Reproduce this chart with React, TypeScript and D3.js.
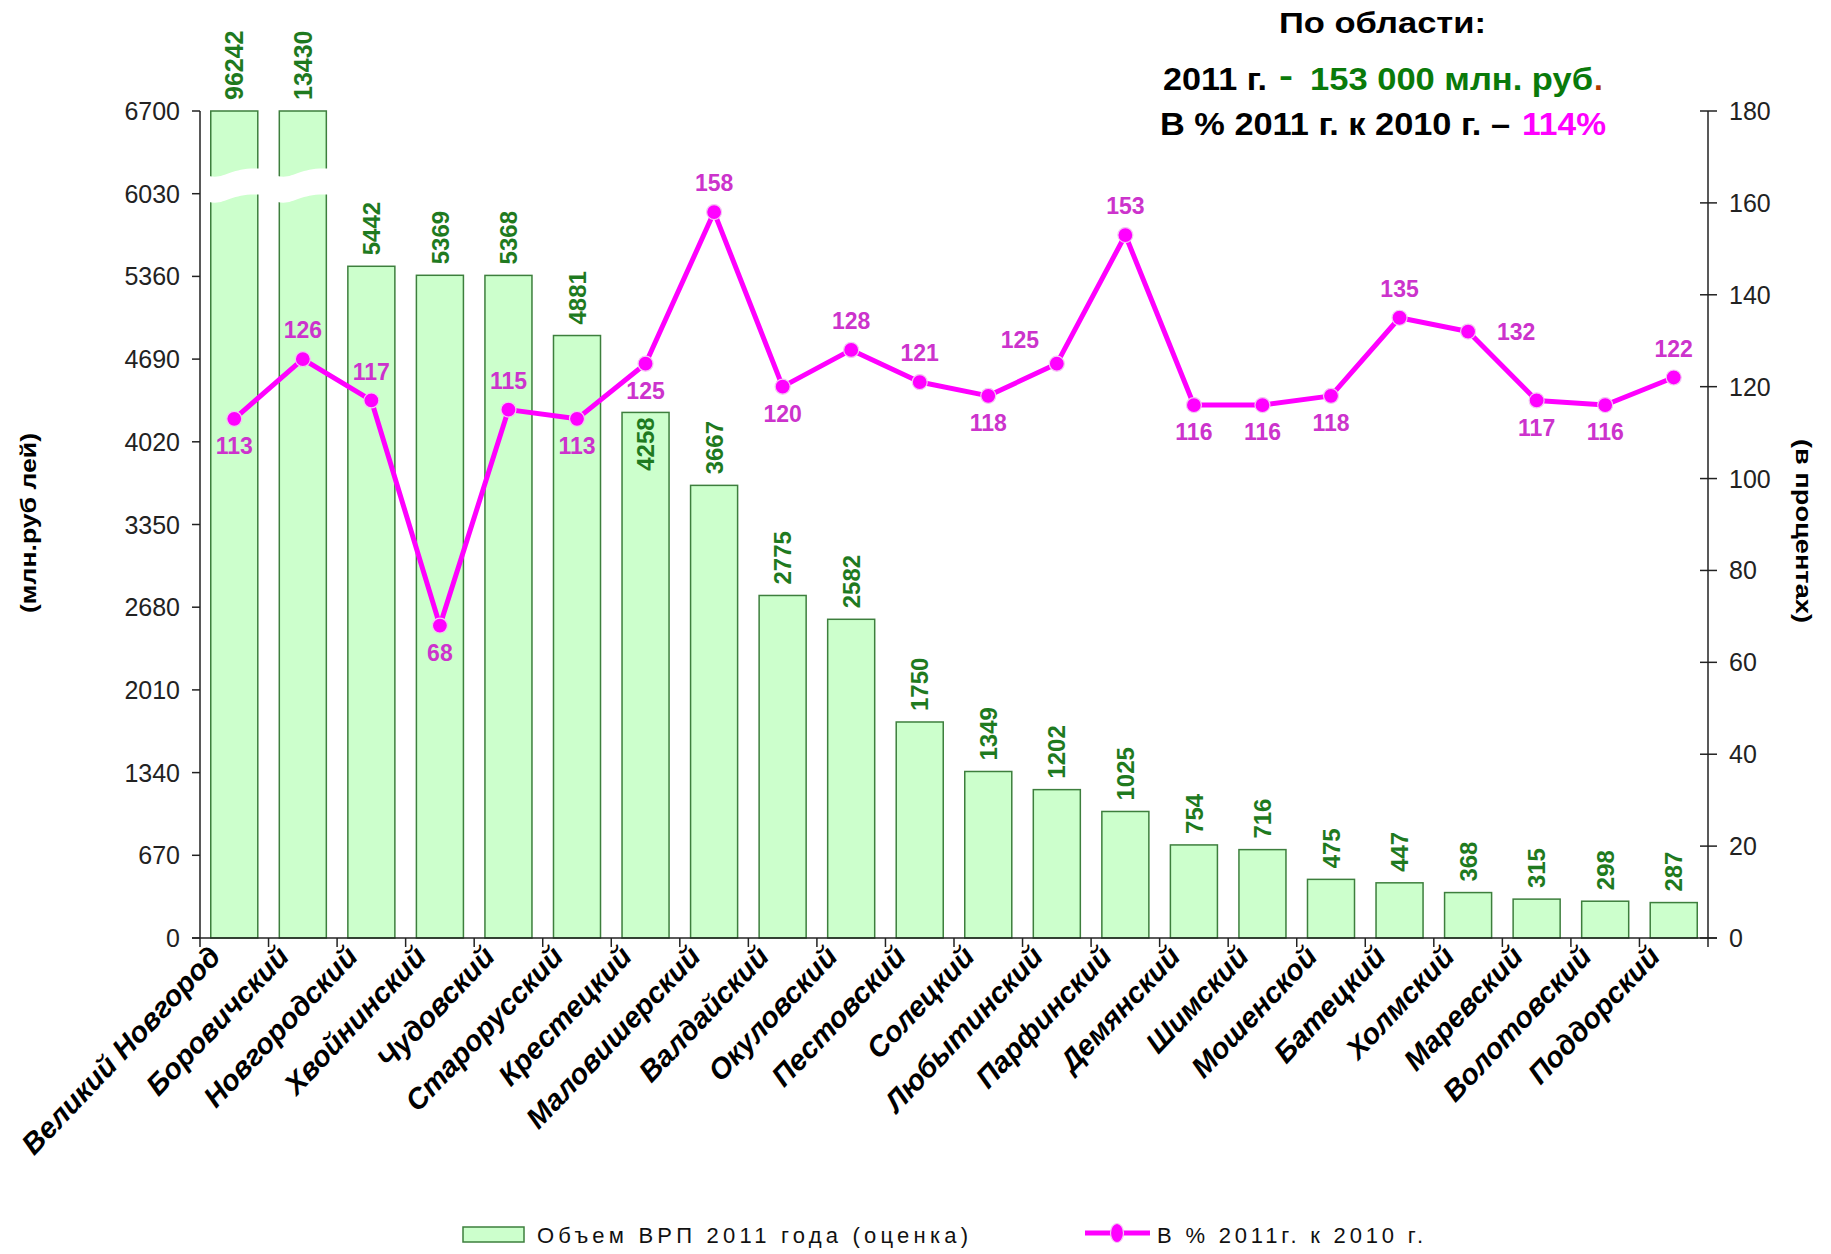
import React from 'react';
import * as d3 from 'd3';

const categories = ['Великий Новгород','Боровичский','Новгородский','Хвойнинский','Чудовский','Старорусский','Крестецкий','Маловишерский','Валдайский','Окуловский','Пестовский','Солецкий','Любытинский','Парфинский','Демянский','Шимский','Мошенской','Батецкий','Холмский','Маревский','Волотовский','Поддорский'];
const grpValues = [96242,13430,5442,5369,5368,4881,4258,3667,2775,2582,1750,1349,1202,1025,754,716,475,447,368,315,298,287];
const pctValues = [113,126,117,68,115,113,125,158,120,128,121,118,125,153,116,116,118,135,132,117,116,122];
const pctLabelPos = ['below','above','above','below','above','below','below','above','below','above','above','below','left','above','below','below','below','above','right','below','below','above'];
const barLabelPos = ['top','top','top','top','top','top','inside','top','top','top','top','top','top','top','top','top','top','top','top','top','top','top'];
const leftTicks = [0,670,1340,2010,2680,3350,4020,4690,5360,6030,6700];
const rightTicks = [0,20,40,60,80,100,120,140,160,180];
const leftMax = 6700;
const rightMax = 180;

const W = 1831, H = 1254;
const L = 200, R = 1708, T = 111, B = 938;
const MAG = '#ff00ff';
const MAG_TXT = '#cc33cc';
const BAR_TXT = '#1f7a1f';
const FONT = '"Liberation Sans", Arial, sans-serif';

export default function App() {
  const x = d3.scaleBand<string>().domain(categories).range([L, R]).paddingInner(0.314).paddingOuter(0.157);
  const yL = d3.scaleLinear().domain([0, leftMax]).range([B, T]);
  const yR = d3.scaleLinear().domain([0, rightMax]).range([B, T]);
  const bw = x.bandwidth();
  const cx = (c: string) => (x(c) as number) + bw / 2;
  const step = x.step();

  const line = d3.line<number>().x((_, i) => cx(categories[i])).y(d => yR(d));

  const breakPath = (x0: number, x1: number, yTop: number, h: number) => {
    const a = x0 - 2, b = x1 + 6;
    const m = (a + b) / 2;
    const top = `M${a},${yTop + 4} C${m - 10},${yTop + 8} ${m - 6},${yTop - 6} ${b},${yTop - 3}`;
    const bot = `L${b},${yTop - 3 + h} C${m - 6},${yTop - 6 + h} ${m - 10},${yTop + 8 + h} ${a},${yTop + 4 + h} Z`;
    return top + ' ' + bot;
  };

  return (
    <svg width={W} height={H} style={{ position: 'absolute', left: 0, top: 0, background: '#fff' }} fontFamily={FONT}>
      <rect x={0} y={0} width={W} height={H} fill="#fff" />
      {/* Title */}
      <text x={1279} y={33} fontSize={29} fontWeight="bold" fill="#000" textLength={207} lengthAdjust="spacingAndGlyphs">По области:</text>
      <text x={1163} y={90} fontSize={32} fontWeight="bold" fill="#000" textLength={104} lengthAdjust="spacingAndGlyphs">2011 г.</text>
      <text x={1279} y={86} fontSize={32} fontWeight="bold" fill="#0a7a0a" textLength={14} lengthAdjust="spacingAndGlyphs">-</text>
      <text x={1310} y={90} fontSize={32} fontWeight="bold" fill="#0a7a0a" textLength={283} lengthAdjust="spacingAndGlyphs">153 000 млн. руб</text>
      <text x={1594} y={90} fontSize={32} fontWeight="bold" fill="#b03a00">.</text>
      <text x={1160} y={135} fontSize={32} fontWeight="bold" fill="#000" textLength={350} lengthAdjust="spacingAndGlyphs">В % 2011 г. к 2010 г. –</text>
      <text x={1522} y={135} fontSize={32} fontWeight="bold" fill={MAG} textLength={84} lengthAdjust="spacingAndGlyphs">114%</text>

      {/* Bars */}
      {categories.map((c, i) => {
        const v = Math.min(grpValues[i], leftMax);
        return (
          <rect key={c} x={x(c)} y={yL(v)} width={bw} height={B - yL(v)} fill="#ccffcc" stroke="#3d7f3d" strokeWidth={1.5} />
        );
      })}
      {/* Axis breaks on truncated bars */}
      {categories.map((c, i) => grpValues[i] > leftMax ? (
        <path key={'br' + c} d={breakPath(x(c) as number, (x(c) as number) + bw, 172, 26)} fill="#fff" />
      ) : null)}

      {/* Bar value labels */}
      {categories.map((c, i) => {
        const v = Math.min(grpValues[i], leftMax);
        const inside = barLabelPos[i] === 'inside';
        const yy = inside ? yL(v) + 5 : yL(v) - 11;
        return (
          <text key={'bl' + c} transform={`translate(${cx(c)},${yy}) rotate(-90)`} dy="0.36em"
            textAnchor={inside ? 'end' : 'start'} fontSize={grpValues[i] > leftMax ? 25 : 24} fontWeight="bold" fill={BAR_TXT}>
            {grpValues[i]}
          </text>
        );
      })}

      {/* Axes */}
      <line x1={L} x2={L} y1={T} y2={B} stroke="#222" strokeWidth={1.5} />
      <line x1={R} x2={R} y1={T} y2={B} stroke="#222" strokeWidth={1.5} />
      <line x1={L - 8} x2={R + 9} y1={B} y2={B} stroke="#222" strokeWidth={1.5} />
      {leftTicks.map(t => (
        <g key={'lt' + t}>
          <line x1={L - 8} x2={L} y1={yL(t)} y2={yL(t)} stroke="#222" strokeWidth={1.5} />
          <text x={L - 20} y={yL(t)} dy="0.36em" textAnchor="end" fontSize={25} fill="#222">{t}</text>
        </g>
      ))}
      {rightTicks.map(t => (
        <g key={'rt' + t}>
          <line x1={R - 8} x2={R + 9} y1={yR(t)} y2={yR(t)} stroke="#222" strokeWidth={1.5} />
          <text x={R + 21} y={yR(t)} dy="0.36em" textAnchor="start" fontSize={25} fill="#222">{t}</text>
        </g>
      ))}
      {d3.range(categories.length + 1).map(i => (
        <line key={'xt' + i} x1={L + i * step} x2={L + i * step} y1={B} y2={B + 9} stroke="#222" strokeWidth={1.5} />
      ))}

      {/* Axis titles */}
      <text transform={`translate(36,523) rotate(-90)`} textAnchor="middle" fontSize={22} fontWeight="bold" fill="#000" textLength={180} lengthAdjust="spacingAndGlyphs">(млн.руб лей)</text>
      <text transform={`translate(1796,531) rotate(90)`} textAnchor="middle" fontSize={22} fontWeight="bold" fill="#000" textLength={184} lengthAdjust="spacingAndGlyphs">(в процентах)</text>

      {/* X labels */}
      {categories.map(c => (
        <text key={'xl' + c} transform={`translate(${cx(c) - 12},${B + 20}) rotate(-46.5)`} textAnchor="end"
          fontSize={29} fontWeight="bold" fontStyle="italic" fill="#000">{c}</text>
      ))}

      {/* Line */}
      <path d={line(pctValues) || ''} fill="none" stroke={MAG} strokeWidth={5} strokeLinejoin="round" />
      {pctValues.map((v, i) => (
        <circle key={'pt' + i} cx={cx(categories[i])} cy={yR(v)} r={7.5} fill={MAG} stroke="#f3c8f3" strokeWidth={1.2} />
      ))}
      {pctValues.map((v, i) => {
        const px = cx(categories[i]);
        const py = yR(v);
        const pos = pctLabelPos[i];
        let lx = px, ly = py, anchor = 'middle';
        if (pos === 'above') ly = py - 29;
        else if (pos === 'below') ly = py + 27;
        else if (pos === 'left') { lx = px - 37; ly = py - 24; }
        else if (pos === 'right') { lx = px + 48; ly = py; }
        return (
          <text key={'pl' + i} x={lx} y={ly} dy="0.36em" textAnchor={anchor} fontSize={23} fontWeight="bold" fill={MAG_TXT}>{v}</text>
        );
      })}

      {/* Legend */}
      <rect x={463} y={1227} width={61} height={15} fill="#ccffcc" stroke="#3d7f3d" strokeWidth={1.5} />
      <text x={537} y={1243} fontSize={22} fill="#111" textLength={431} lengthAdjust="spacing">Объем ВРП 2011 года (оценка)</text>
      <line x1={1085} x2={1150} y1={1233} y2={1233} stroke={MAG} strokeWidth={5} />
      <ellipse cx={1117} cy={1233} rx={6.5} ry={9.5} fill={MAG} stroke="#f3c8f3" strokeWidth={1.2} />
      <text x={1157} y={1243} fontSize={22} fill="#111" textLength={266} lengthAdjust="spacing">В %  2011г. к 2010 г.</text>
    </svg>
  );
}
